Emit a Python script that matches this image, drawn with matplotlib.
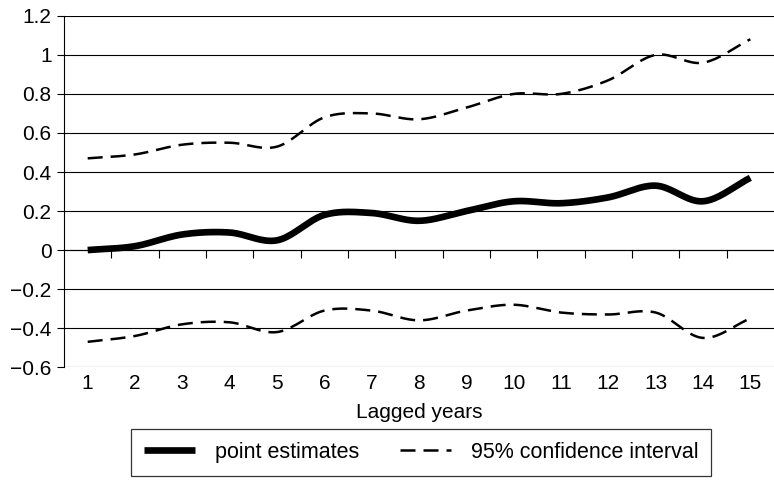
import matplotlib
matplotlib.use("Agg")
import matplotlib.pyplot as plt
import numpy as np
from matplotlib.ticker import FuncFormatter

plt.rcParams["font.family"] = ["Liberation Sans", "DejaVu Sans"]

# values
years = list(range(1, 16))
point_est = [0.00, 0.02, 0.08, 0.09, 0.05, 0.18, 0.19, 0.15, 0.20, 0.25, 0.24, 0.27, 0.33, 0.25, 0.37]
ci_upper = [0.47, 0.49, 0.54, 0.55, 0.53, 0.68, 0.70, 0.67, 0.73, 0.80, 0.80, 0.87, 1.00, 0.96, 1.08]
ci_lower = [-0.47, -0.44, -0.38, -0.37, -0.42, -0.31, -0.31, -0.36, -0.31, -0.28, -0.32, -0.33, -0.32, -0.45, -0.35]
y_ticks = [-0.6, -0.4, -0.2, 0, 0.2, 0.4, 0.6, 0.8, 1.0, 1.2]


def smooth(x, y, n=20):
    """Catmull-Rom curve through the points (like Excel's smoothed line)."""
    x = np.asarray(x, float)
    y = np.asarray(y, float)
    px = np.concatenate([[2 * x[0] - x[1]], x, [2 * x[-1] - x[-2]]])
    py = np.concatenate([[2 * y[0] - y[1]], y, [2 * y[-1] - y[-2]]])
    xs, ys = [], []
    t = np.linspace(0, 1, n, endpoint=False)
    for i in range(1, len(px) - 2):
        for p, out in ((px, xs), (py, ys)):
            p0, p1, p2, p3 = p[i - 1], p[i], p[i + 1], p[i + 2]
            out.extend(0.5 * (2 * p1 + (-p0 + p2) * t
                              + (2 * p0 - 5 * p1 + 4 * p2 - p3) * t ** 2
                              + (-p0 + 3 * p1 - 3 * p2 + p3) * t ** 3))
    xs.append(x[-1])
    ys.append(y[-1])
    return np.array(xs), np.array(ys)


fig = plt.figure(figsize=(7.74, 4.8), dpi=100)
ax = fig.add_axes([0.0827, 0.235, 0.9173, 0.732])

for yv in y_ticks:
    ax.axhline(yv, color="black", lw=0.8, zorder=1)

sx, sy = smooth(years, point_est)
ax.plot(sx, sy, color="black", lw=4.8, solid_capstyle="butt", label="point estimates", zorder=3)
sx, sy = smooth(years, ci_upper)
ax.plot(sx, sy, color="black", lw=1.8, dashes=(6, 3.2), label="95% confidence interval", zorder=3)
sx, sy = smooth(years, ci_lower)
ax.plot(sx, sy, color="black", lw=1.8, dashes=(6, 3.2), zorder=3)

ax.set_xlim(0.5, 15.5)
ax.set_ylim(-0.6, 1.2)
ax.set_yticks(y_ticks)
ax.yaxis.set_major_formatter(FuncFormatter(
    lambda v, _: "0" if abs(v) < 1e-9 else ("%g" % v).replace("-", "\u2212")))
ax.tick_params(axis="y", direction="out", length=5, width=0.8, labelsize=15, pad=4)

for s in ("top", "right"):
    ax.spines[s].set_visible(False)
ax.spines["left"].set_linewidth(0.8)
ax.spines["bottom"].set_position(("data", 0))
ax.spines["bottom"].set_linewidth(0.8)
ax.set_xticks(np.arange(1.5, 15.5, 1.0))
ax.tick_params(axis="x", direction="out", length=6, width=0.8, labelbottom=False)

sec = ax.secondary_xaxis(0.0)
sec.set_xticks(years)
sec.set_xticklabels([str(y) for y in years])
sec.tick_params(length=0, labelsize=15, pad=5)
sec.spines["bottom"].set_visible(False)
sec.set_xlabel("Lagged years", fontsize=15, labelpad=7)

handles, labels = ax.get_legend_handles_labels()
leg = fig.legend(handles, labels, loc="center", bbox_to_anchor=(0.544, 0.058), ncol=2,
                 frameon=True, fancybox=False, edgecolor="black", fontsize=15.5,
                 handlelength=2.4, columnspacing=1.9, borderpad=0.6, handletextpad=0.9,
                 borderaxespad=0)
leg.get_frame().set_linewidth(0.9)

fig.savefig("out.png", dpi=100)
